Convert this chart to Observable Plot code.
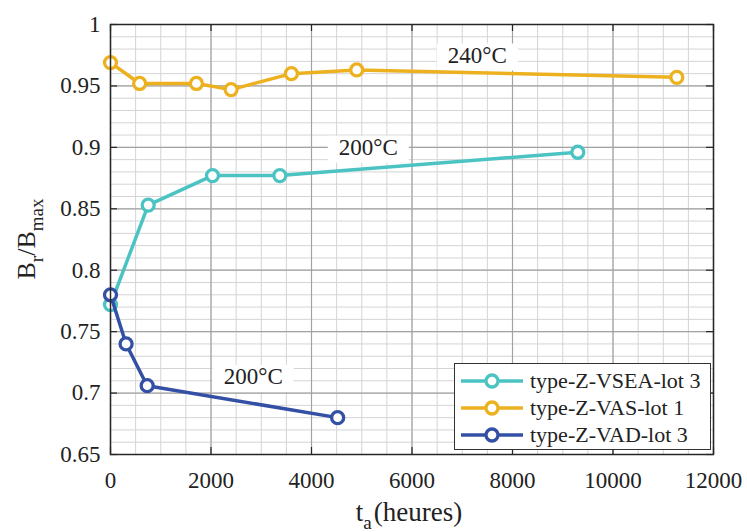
<!DOCTYPE html>
<html><head><meta charset="utf-8">
<script src="https://cdn.jsdelivr.net/npm/d3@7"></script>
<script src="https://cdn.jsdelivr.net/npm/@observablehq/plot@0.6"></script>
</head><body style="margin:0;background:#fff;font-family:'Liberation Serif'">
<div id="chart" style="position:relative;width:747px;height:532px;font-family:'Liberation Serif'"></div>
<script>
// ---- data ----
const seriesNames = ["type-Z-VSEA-lot 3", "type-Z-VAS-lot 1", "type-Z-VAD-lot 3"];
const seriesColors = ["#4cc3c3", "#edb120", "#3350a4"];
const vseaHours = [0, 750, 2030, 3370, 9300];
const vseaValues = [0.772, 0.853, 0.877, 0.877, 0.896];
const vasHours = [0, 580, 1710, 2400, 3600, 4900, 11270];
const vasValues = [0.969, 0.952, 0.952, 0.947, 0.960, 0.963, 0.957];
const vadHours = [0, 310, 730, 4520];
const vadValues = [0.780, 0.740, 0.706, 0.680];
const xTicks = [0, 2000, 4000, 6000, 8000, 10000, 12000];
const yTicks = [0.65, 0.7, 0.75, 0.8, 0.85, 0.9, 0.95, 1];
const xMinor = d3.range(0, 12001, 500);
const yMinor = d3.range(65, 101).map(d => d / 100);
const annoText = ["240°C", "200°C", "200°C"];
const annoX = [7300, 5130, 2840];
const annoY = [0.975, 0.9, 0.7135];

// ---- tables ----
const toRows = (name, hs, vs) => hs.map((h, i) => ({series: name, h, v: vs[i]}));
const drawOrder = [
  toRows(seriesNames[1], vasHours, vasValues),
  toRows(seriesNames[0], vseaHours, vseaValues),
  toRows(seriesNames[2], vadHours, vadValues)
];
const annos = annoText.map((t, i) => ({t, x: annoX[i], y: annoY[i]}));

const W = 747, H = 532, mL = 110, mR = 34, mT = 24, mB = 78;
const fw = W - mL - mR, fh = H - mT - mB;
const font = "Liberation Serif";

const marks = [
  Plot.ruleX(xMinor, {x: d => d, stroke: "#d4d4d4", strokeWidth: 1}),
  Plot.ruleY(yMinor, {y: d => d, stroke: "#d4d4d4", strokeWidth: 1}),
  Plot.ruleX(xTicks, {x: d => d, stroke: "#a2a2a2", strokeWidth: 1.2}),
  Plot.ruleY(yTicks, {y: d => d, stroke: "#a2a2a2", strokeWidth: 1.2}),
  Plot.text(annos, {x: "x", y: "y", text: "t", fontSize: 23, fontFamily: font, fill: "#222", className: "anno"}),
];
for (const rows of drawOrder) {
  marks.push(Plot.line(rows, {x: "h", y: "v", stroke: "series", strokeWidth: 3.5}));
  marks.push(Plot.dot(rows, {x: "h", y: "v", stroke: "series", r: 6, strokeWidth: 3.3, fill: "white"}));
}
marks.push(
  Plot.tickX(xTicks, {x: d => d, insetTop: fh - 7, stroke: "#262626", strokeWidth: 1.2}),
  Plot.tickX(xTicks, {x: d => d, insetBottom: fh - 7, stroke: "#262626", strokeWidth: 1.2}),
  Plot.tickY(yTicks, {y: d => d, insetRight: fw - 7, stroke: "#262626", strokeWidth: 1.2}),
  Plot.tickY(yTicks, {y: d => d, insetLeft: fw - 7, stroke: "#262626", strokeWidth: 1.2}),
  Plot.frame({stroke: "#262626", strokeWidth: 1.5}),
  Plot.axisX(xTicks, {tickSize: 0, tickPadding: 17, tickFormat: "d", fontSize: 23, fontFamily: font, label: null, fill: "#222"}),
  Plot.axisY(yTicks, {tickSize: 0, tickPadding: 10, tickFormat: d => String(+d.toFixed(2)), fontSize: 23, fontFamily: font, label: null, fill: "#222"})
);

const plot = Plot.plot({
  width: W, height: H,
  marginLeft: mL, marginRight: mR, marginTop: mT, marginBottom: mB,
  style: {fontFamily: font, background: "white"},
  x: {domain: [0, 12000]},
  y: {domain: [0.65, 1]},
  color: {domain: seriesNames, range: seriesColors},
  marks
});
const chart = document.getElementById("chart");
chart.appendChild(plot);

const svg = d3.select(plot);
// white boxes behind annotations
svg.selectAll("g.anno text").each(function() {
  const b = this.getBBox();
  const r = document.createElementNS("http://www.w3.org/2000/svg", "rect");
  r.setAttribute("x", b.x - 11); r.setAttribute("y", b.y + 1);
  r.setAttribute("width", b.width + 22); r.setAttribute("height", b.height + 2);
  r.setAttribute("fill", "white");
  const tr = this.getAttribute("transform"); if (tr) r.setAttribute("transform", tr);
  this.parentNode.insertBefore(r, this);
});

// axis labels with subscripts
const yl = svg.append("text").attr("transform", "translate(35,239) rotate(-90)")
  .attr("text-anchor", "middle").attr("font-size", 26).attr("font-family", font).attr("fill", "#222");
yl.append("tspan").text("B");
yl.append("tspan").attr("dy", 8).attr("font-size", 19).text("r");
yl.append("tspan").attr("dy", -8).text("/B");
yl.append("tspan").attr("dy", 8).attr("font-size", 19).text("max");

const xl = svg.append("text").attr("x", 409).attr("y", 521)
  .attr("text-anchor", "middle").attr("font-size", 27).attr("font-family", font).attr("fill", "#222");
xl.append("tspan").text("t");
xl.append("tspan").attr("dy", 8).attr("font-size", 19).text("a");
xl.append("tspan").attr("dy", -8).attr("dx", 2).text("(heures)");

// legend (HTML overlay)
const legend = document.createElement("div");
Object.assign(legend.style, {position: "absolute", left: "454px", top: "363px", width: "257px", height: "87px",
  background: "#fff", border: "1px solid #333", boxSizing: "border-box", fontSize: "22px", color: "#222",
  fontFamily: "'Liberation Serif'"});
chart.appendChild(legend);
seriesNames.forEach((name, i) => {
  const row = document.createElement("div");
  Object.assign(row.style, {position: "absolute", left: "0px", top: (3 + i * 27) + "px", height: "27px",
    display: "flex", alignItems: "center", whiteSpace: "nowrap"});
  const sw = d3.create("svg").attr("width", 62).attr("height", 20).style("margin", "0 7px 0 6px");
  sw.append("line").attr("x1", 0).attr("x2", 62).attr("y1", 10).attr("y2", 10)
    .attr("stroke", seriesColors[i]).attr("stroke-width", 3.5);
  sw.append("circle").attr("cx", 31).attr("cy", 10).attr("r", 6).attr("fill", "white")
    .attr("stroke", seriesColors[i]).attr("stroke-width", 3.3);
  row.appendChild(sw.node());
  const span = document.createElement("span");
  span.style.fontFamily = "'Liberation Serif'";
  span.textContent = name;
  row.appendChild(span);
  legend.appendChild(row);
});
</script></body></html>
